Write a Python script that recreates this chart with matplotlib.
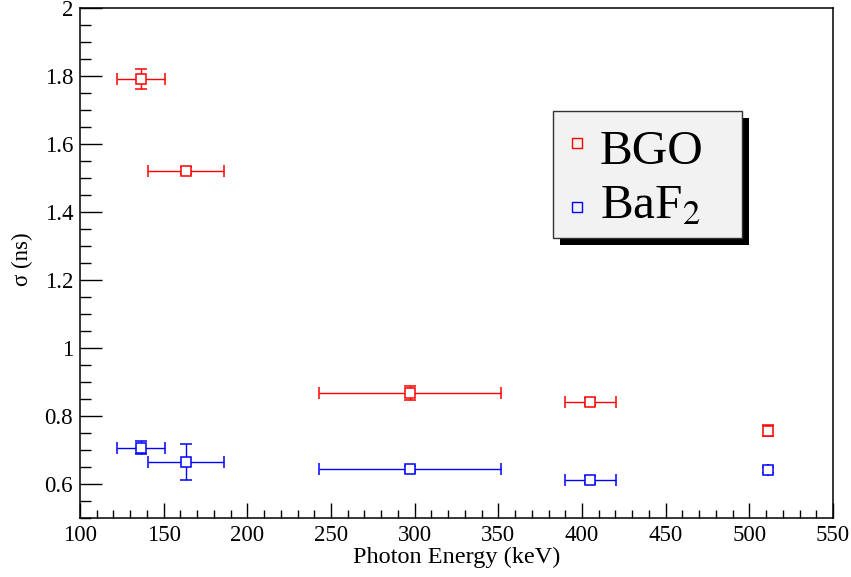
import matplotlib
matplotlib.use("Agg")
import matplotlib.pyplot as plt
from matplotlib.patches import Rectangle
from matplotlib.ticker import MultipleLocator, FormatStrFormatter
import numpy as np

# photon energies (keV) and their spreads
energy = [136.5, 163.3, 297.3, 405.0, 511.0]
energy_err = [14.5, 22.7, 54.3, 15.2, 0.0]

# timing resolution (ns)
bgo_sigma = [1.790, 1.520, 0.868, 0.842, 0.757]
bgo_err = [0.030, 0.010, 0.020, 0.010, 0.017]
baf2_sigma = [0.707, 0.665, 0.644, 0.612, 0.641]
baf2_err = [0.020, 0.053, 0.010, 0.010, 0.010]

plt.rcParams['font.family'] = ['Liberation Serif', 'DejaVu Serif']
plt.rcParams['mathtext.fontset'] = 'stix'

fig = plt.figure(figsize=(8.51, 5.77), dpi=100)
ax = fig.add_axes([80/851, 1-518/577, 753/851, 510.5/577])

def draw(y, yerr, col):
    ax.errorbar(energy, y, xerr=energy_err, yerr=yerr, fmt='s', color=col,
                mfc='white', mec=col, ms=7.5, mew=1.1, elinewidth=1.0,
                capsize=4, capthick=1.0)

draw(bgo_sigma, bgo_err, '#ff0000')
draw(baf2_sigma, baf2_err, '#0000ff')

ax.set_xlim(100, 550)
ax.set_ylim(0.5, 2.0)
ax.xaxis.set_major_locator(MultipleLocator(50))
ax.xaxis.set_minor_locator(MultipleLocator(10))
ax.set_yticks(np.arange(0.6, 2.01, 0.2))
ax.yaxis.set_minor_locator(MultipleLocator(0.05))
ax.yaxis.set_major_formatter(FormatStrFormatter('%g'))

ax.tick_params(which='both', direction='in', top=False, right=False,
               labelsize=16.5, width=1.0, color='black')
ax.tick_params(axis='x', which='major', length=11, pad=5)
ax.tick_params(axis='x', which='minor', length=5.5)
ax.tick_params(axis='y', which='major', length=15.5, pad=5)
ax.tick_params(axis='y', which='minor', length=8)
for s in ax.spines.values():
    s.set_linewidth(1.1)

ax.set_xlabel('Photon Energy (keV)', fontsize=17.5, va='top')
ax.set_ylabel('σ (ns)', fontsize=16.5)
ax.xaxis.set_label_coords(0.5, -0.056)
ax.yaxis.set_label_coords(-0.063, 0.507)

# legend panel with drop shadow
bx0, by0, bw, bh = 0.6286, 0.549, 0.2502, 0.248
ax.add_patch(Rectangle((bx0 + 0.009, by0 - 0.0135), bw, bh, transform=ax.transAxes,
                       facecolor='black', edgecolor='none', zorder=4))
ax.add_patch(Rectangle((bx0, by0), bw, bh, transform=ax.transAxes,
                       facecolor='#f2f2f2', edgecolor='#333333', lw=1.0, zorder=5))
for ym, col, lab, yt in [(0.7346, '#ff0000', 'BGO', 0.6934),
                         (0.6092, '#0000ff', 'BaF$_2$', 0.5877)]:
    ax.plot([0.660], [ym], 's', transform=ax.transAxes, mfc='none', mec=col,
            ms=7, mew=1.0, zorder=6, clip_on=False)
    ax.text(0.6906, yt, lab, transform=ax.transAxes, fontsize=35.5,
            va='baseline', ha='left', zorder=6)

fig.savefig('out.png', dpi=100)
